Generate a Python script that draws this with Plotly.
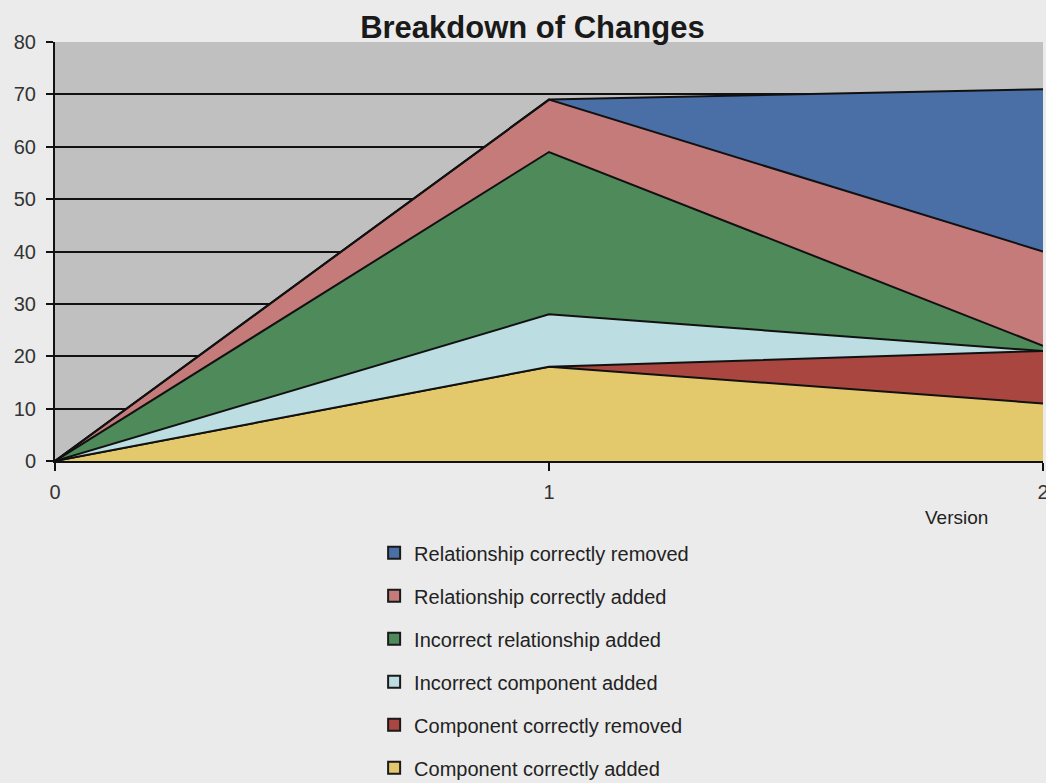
import plotly.graph_objects as go

versions = [0, 1, 2]

series_names = [
    "Component correctly added",
    "Component correctly removed",
    "Incorrect component added",
    "Incorrect relationship added",
    "Relationship correctly added",
    "Relationship correctly removed",
]
component_correctly_added = [0, 18, 11]
component_correctly_removed = [0, 0, 10]
incorrect_component_added = [0, 10, 0]
incorrect_relationship_added = [0, 31, 1]
relationship_correctly_added = [0, 10, 18]
relationship_correctly_removed = [0, 0, 31]

series_values = [
    component_correctly_added,
    component_correctly_removed,
    incorrect_component_added,
    incorrect_relationship_added,
    relationship_correctly_added,
    relationship_correctly_removed,
]
series_colors = ["#e3c96c", "#a9463f", "#bcdde2", "#4f8a5b", "#c57b7a", "#4a6ea6"]

fig = go.Figure()
n = len(series_names)
for i, (name, vals, col) in enumerate(zip(series_names, series_values, series_colors)):
    fig.add_trace(go.Scatter(
        x=versions, y=vals, name=name, mode="lines",
        stackgroup="changes", fillcolor=col,
        line=dict(color="#111111", width=2),
        legendgroup=name, showlegend=False,
    ))
    # square swatch for the legend entry (top of stack listed first)
    fig.add_trace(go.Scatter(
        x=[None], y=[None], name=name, mode="markers",
        marker=dict(symbol="square", size=12, color=col,
                    line=dict(color="#1a1a1a", width=2)),
        legendgroup=name, showlegend=True, legendrank=n - i,
    ))

font = "Liberation Sans, Arial, sans-serif"
fig.update_layout(
    width=1046, height=783,
    paper_bgcolor="#ebebeb", plot_bgcolor="#c0c0c0",
    margin=dict(l=55, r=3, t=42, b=322),
    title=dict(text="<b>Breakdown of Changes</b>", x=0.509, xanchor="center",
               y=0.965, yanchor="middle",
               font=dict(family=font, size=31, color="#1a1a1a")),
    font=dict(family=font, size=20, color="#333333"),
    showlegend=True,
    legend=dict(traceorder="grouped", x=0.323, xanchor="left",
                yref="container", y=0.319, yanchor="top",
                bgcolor="rgba(0,0,0,0)", font=dict(family=font, size=20, color="#222222"),
                tracegroupgap=14, itemwidth=30),
    xaxis=dict(range=[0, 2], tickvals=versions, ticktext=[str(v) for v in versions],
               showgrid=False, zeroline=False, showline=True, linecolor="#111111", linewidth=2,
               ticks="outside", ticklen=8, tickcolor="#111111", tickwidth=2,
               ticklabelstandoff=4, ticklabeloverflow="allow", automargin=False),
    yaxis=dict(range=[0, 80], dtick=10, showgrid=True, gridcolor="#111111", gridwidth=2,
               zeroline=False, showline=True, linecolor="#111111", linewidth=2,
               ticks="outside", ticklen=7, tickcolor="#111111", tickwidth=2,
               ticklabelstandoff=6),
)
fig.add_annotation(text="Version", xref="paper", yref="paper", x=0.912, y=-0.135,
                   xanchor="center", yanchor="middle",
                   showarrow=False, font=dict(family=font, size=19, color="#222222"))

fig.write_html("out.html")
